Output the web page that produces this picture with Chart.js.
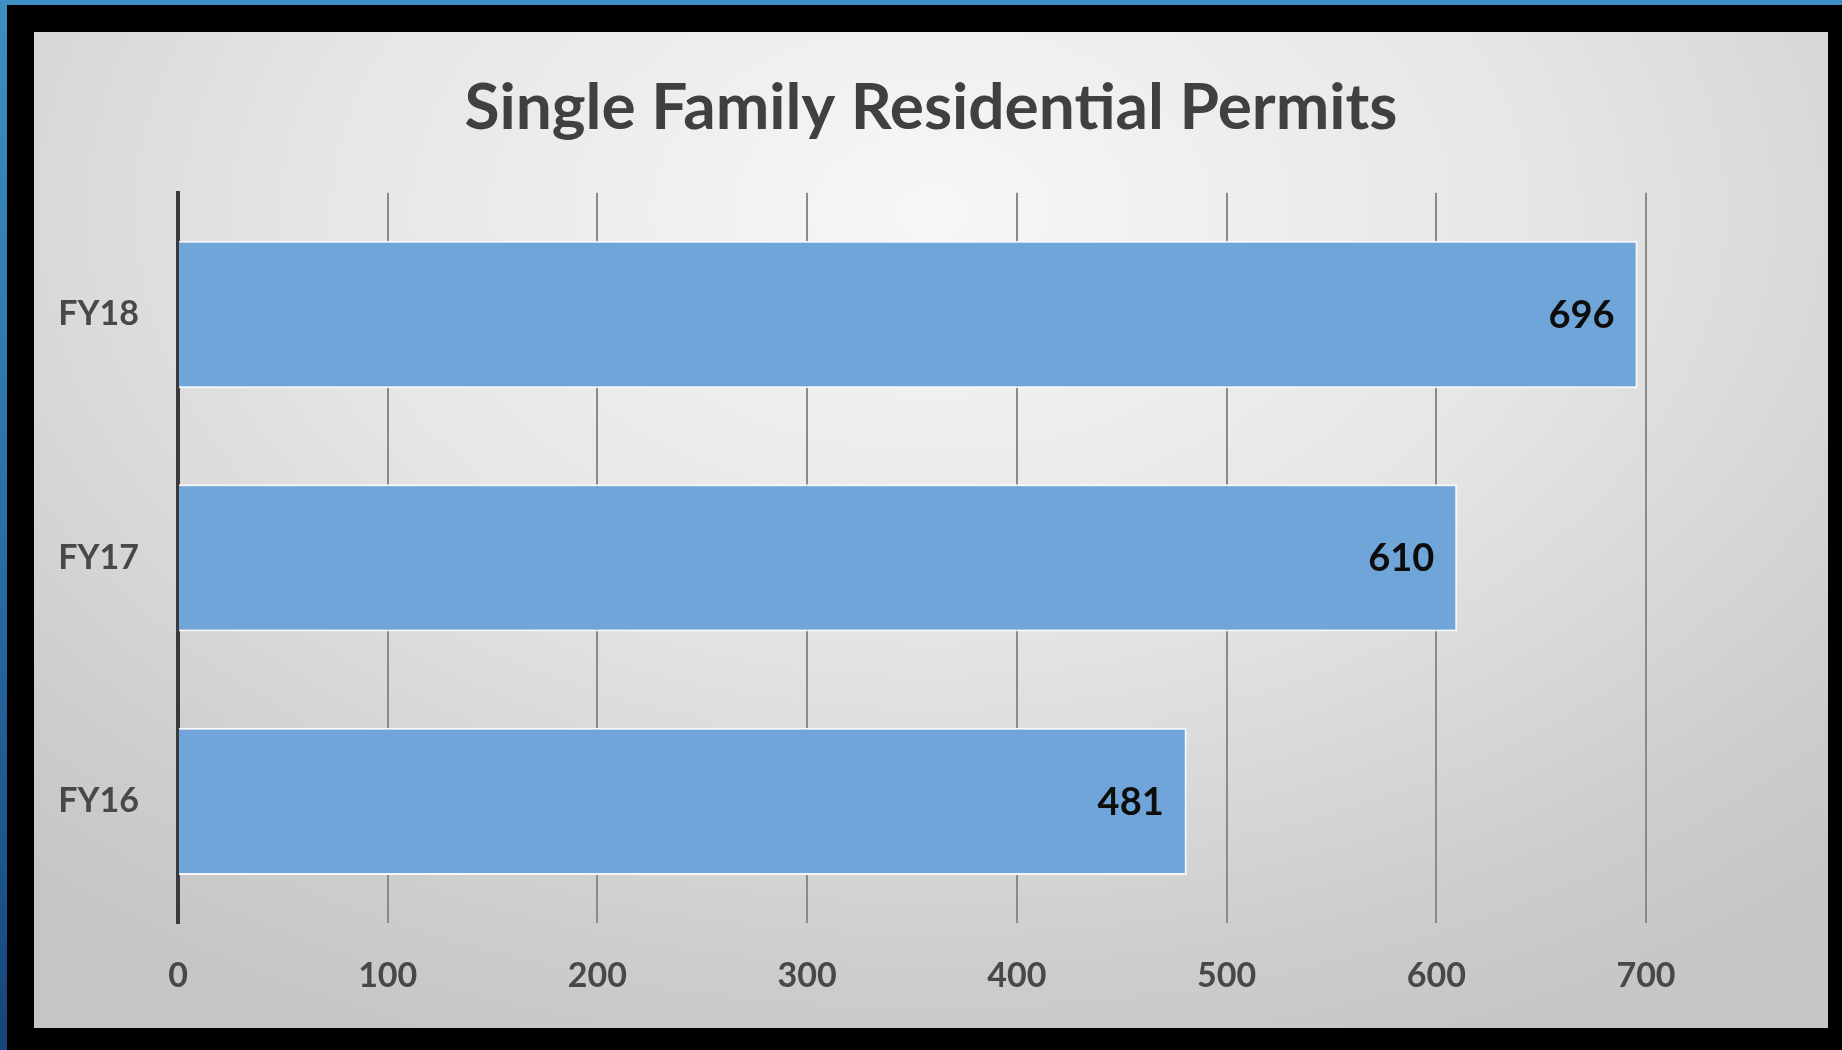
<!DOCTYPE html>
<html>
<head>
<meta charset="utf-8">
<script src="https://cdn.jsdelivr.net/npm/chart.js@4.4.1/dist/chart.umd.min.js"></script>
<style>
    html, body { margin: 0; padding: 0; }
    body { width: 1842px; height: 1050px; background: #000; position: relative; overflow: hidden; }
    #topBand { position: absolute; left: 0; top: 0; width: 1842px; height: 5px; background: #3b8fc3; }
    #leftBand { position: absolute; left: 0; top: 0; width: 7px; height: 1050px; background: linear-gradient(#3b8fc3, #2a6fa6 50%, #15457a); }
    #panel {
        position: absolute; left: 34px; top: 32px; width: 1794px; height: 996px;
        background: radial-gradient(ellipse 75% 90% at 50% 18%, #f7f7f7 0%, #e6e6e6 45%, #cdcdcd 85%, #c6c6c6 100%);
    }
</style>
</head>
<body>
<div id="topBand"></div>
<div id="leftBand"></div>
<div id="panel"><canvas id="permitChart" width="1794" height="996"></canvas></div>
<script>
// du lieu bieu do
var namTaiChinh = ['FY16', 'FY17', 'FY18'];
var soGiayPhep = [481, 610, 696];
var mocTrucX = [0, 100, 200, 300, 400, 500, 600, 700];

// ve so lieu o cuoi moi thanh
var nhanGiaTri = {
    id: 'nhanGiaTri',
    afterDatasetsDraw: function (chart) {
        var ctx = chart.ctx;
        var meta = chart.getDatasetMeta(0);
        ctx.save();
        ctx.font = 'bold 38px Lato';
        ctx.fillStyle = '#0d0d0d';
        ctx.textAlign = 'right';
        ctx.textBaseline = 'middle';
        meta.data.forEach(function (bar, i) {
            ctx.fillText(String(chart.data.datasets[0].data[i]), bar.x - 23, bar.y + 1);
        });
        ctx.restore();
    }
};

// can giua tieu de theo ca khung hinh
var canGiuaTieuDe = {
    id: 'canGiuaTieuDe',
    afterLayout: function (chart) {
        var t = chart.titleBlock;
        if (t) {
            t.left = 0;
            t.right = chart.width;
            t.width = chart.width;
        }
    }
};

var ctx = document.getElementById('permitChart').getContext('2d');
var _chart = new Chart(ctx, {
    type: 'bar',
    data: {
        labels: namTaiChinh,
        datasets: [{
            data: soGiayPhep,
            backgroundColor: '#6fa5d8',
            borderColor: '#f4f7fb',
            borderWidth: 2,
            borderSkipped: 'start',
            barPercentage: 0.605,
            categoryPercentage: 1
        }]
    },
    options: {
        indexAxis: 'y',
        responsive: false,
        animation: false,
        layout: { padding: { left: 0, right: 182, top: 0, bottom: 0 } },
        plugins: {
            legend: { display: false },
            tooltip: { enabled: false },
            title: {
                display: true,
                text: 'Single Family Residential Permits',
                color: '#404040',
                font: { family: 'Lato', size: 64, weight: 'bold', lineHeight: 1.2 },
                padding: { top: 38, bottom: 46 }
            }
        },
        scales: {
            x: {
                min: 0,
                max: 700,
                afterBuildTicks: function (scale) {
                    scale.ticks = mocTrucX.map(function (v) { return { value: v }; });
                },
                afterFit: function (scale) { scale.height = 105; },
                grid: { color: '#8a8a8a', lineWidth: 2, drawTicks: false },
                border: { display: false },
                ticks: {
                    color: '#484848',
                    padding: 33,
                    font: { family: 'Lato', size: 34, weight: 'bold' }
                }
            },
            y: {
                reverse: true,
                afterFit: function (scale) { scale.width = 144; },
                grid: { display: false, drawTicks: false },
                border: { display: true, color: '#3a3a3a', width: 4 },
                ticks: {
                    color: '#484848',
                    padding: 39,
                    font: { family: 'Lato', size: 34, weight: 'bold' }
                }
            }
        }
    },
    plugins: [nhanGiaTri, canGiuaTieuDe]
});
</script>
</body>
</html>
